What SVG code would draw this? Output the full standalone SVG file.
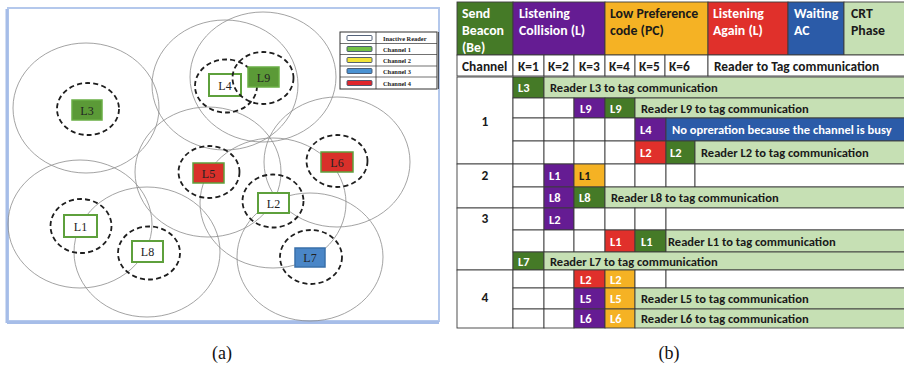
<svg xmlns="http://www.w3.org/2000/svg" width="904" height="366" viewBox="0 0 904 366">
  <style>
    .range { fill: none; stroke: #8c8c8c; stroke-width: 0.8; }
    .zone { fill: none; stroke: #1e1e1e; stroke-width: 1.8; stroke-dasharray: 5 3.2; }
    .rd-off { fill: #ffffff; stroke: #5ea03c; stroke-width: 2; }
    .rd-g { fill: #5b9a37; stroke: #6aae45; stroke-width: 1.5; }
    .rd-r { fill: #d9302a; stroke: #5ea03c; stroke-width: 1.5; }
    .rd-b { fill: #4a86c7; stroke: #3a70aa; stroke-width: 1.5; }
    .rl { font-family: "Liberation Serif", "Times New Roman", serif; font-size: 12px; fill: #222; text-anchor: middle; }
    .lg-t { font-family: "Liberation Serif", "Times New Roman", serif; font-size: 6.4px; font-weight: bold; fill: #222; }
    .cap { font-family: "Liberation Serif", "Times New Roman", serif; font-size: 18px; fill: #111; text-anchor: middle; }
    .c { stroke: #3c3c3c; stroke-width: 0.9; }
    .dg { fill: #457a27; }
    .pu { fill: #651c93; }
    .or { fill: #f5b224; }
    .rd { fill: #e0302b; }
    .bl { fill: #2b5ba8; }
    .lgr { fill: #c6e0b4; }
    .wh { fill: #ffffff; }
    .t { font-family: Carlito, Lato, "Liberation Sans", sans-serif; font-size: 12.5px; font-weight: bold; }
    .th { font-size: 13.8px; }
    .tc { font-size: 13.4px; }
    .tw { fill: #ffffff; }
    .tk { fill: #1a1a1a; }
  </style>

  <rect x="0" y="0" width="904" height="366" fill="#ffffff"/>

  <!-- (a) reader layout -->
  <g id="frame-a">
    <rect x="8" y="8" width="431" height="313" fill="#ffffff" stroke="#b4c8ec" stroke-width="2"/>
    <line x1="7" y1="9" x2="7" y2="323" stroke="#a6bde8" stroke-width="3"/>
    <line x1="7" y1="322.5" x2="439" y2="322.5" stroke="#a6bde8" stroke-width="3"/>
  </g>

  <!-- interrogation ranges -->
  <g id="ranges">
    <ellipse class="range" cx="86" cy="108" rx="73" ry="65"/>
    <ellipse class="range" cx="225" cy="85" rx="73" ry="65"/>
    <ellipse class="range" cx="263" cy="77" rx="73" ry="65"/>
    <ellipse class="range" cx="208" cy="172" rx="73" ry="65"/>
    <ellipse class="range" cx="337" cy="162" rx="73" ry="65"/>
    <ellipse class="range" cx="80" cy="224" rx="72" ry="64"/>
    <ellipse class="range" cx="147" cy="252" rx="73" ry="65"/>
    <ellipse class="range" cx="273" cy="203" rx="73" ry="65"/>
    <ellipse class="range" cx="310" cy="257" rx="73" ry="64"/>
  </g>

  <g id="reader-L3">
    <ellipse class="zone" cx="88" cy="109" rx="31" ry="26"/>
    <rect class="rd-g" x="72" y="100" width="30" height="20"/>
    <text class="rl" x="87" y="114.5">L3</text>
  </g>
  <g id="reader-L4">
    <ellipse class="zone" cx="226" cy="86" rx="31" ry="26.5"/>
    <rect class="rd-off" x="209" y="74" width="32" height="22"/>
    <text class="rl" x="225" y="89.5">L4</text>
  </g>
  <g id="reader-L9">
    <ellipse class="zone" cx="263" cy="78" rx="30.5" ry="26"/>
    <rect class="rd-g" x="248" y="67" width="31" height="20"/>
    <text class="rl" x="263.5" y="81.5">L9</text>
  </g>
  <g id="reader-L5">
    <ellipse class="zone" cx="209" cy="172" rx="30.5" ry="26"/>
    <rect class="rd-r" x="193" y="163" width="31" height="20"/>
    <text class="rl" x="208.5" y="177.5">L5</text>
  </g>
  <g id="reader-L6">
    <ellipse class="zone" cx="337" cy="161" rx="30.5" ry="26"/>
    <rect class="rd-r" x="321" y="152" width="32" height="20"/>
    <text class="rl" x="337" y="166.5">L6</text>
  </g>
  <g id="reader-L1">
    <ellipse class="zone" cx="81" cy="226" rx="30.5" ry="27"/>
    <rect class="rd-off" x="64" y="215" width="33" height="22"/>
    <text class="rl" x="80.5" y="230.5">L1</text>
  </g>
  <g id="reader-L8">
    <ellipse class="zone" cx="149" cy="253" rx="31" ry="26.5"/>
    <rect class="rd-off" x="132" y="241" width="31" height="21"/>
    <text class="rl" x="147.5" y="256">L8</text>
  </g>
  <g id="reader-L2">
    <ellipse class="zone" cx="273" cy="201" rx="30.5" ry="26.5"/>
    <rect class="rd-off" x="258" y="193" width="31" height="20"/>
    <text class="rl" x="273.5" y="207.5">L2</text>
  </g>
  <g id="reader-L7">
    <ellipse class="zone" cx="311" cy="257" rx="31" ry="27"/>
    <rect class="rd-b" x="295" y="248" width="30" height="19"/>
    <text class="rl" x="310" y="262">L7</text>
  </g>

  <!-- legend -->
  <g id="legend">
    <rect x="340" y="32" width="97" height="57" fill="#ffffff" stroke="#333" stroke-width="1"/>
    <line x1="438.5" y1="32" x2="438.5" y2="89" stroke="#333" stroke-width="0.8"/>
    <line x1="376" y1="32" x2="376" y2="89" stroke="#333" stroke-width="0.8"/>
    <line x1="340" y1="43.5" x2="437" y2="43.5" stroke="#333" stroke-width="0.7"/>
    <line x1="340" y1="54.5" x2="437" y2="54.5" stroke="#333" stroke-width="0.7"/>
    <line x1="340" y1="66" x2="437" y2="66" stroke="#333" stroke-width="0.7"/>
    <line x1="340" y1="77" x2="437" y2="77" stroke="#333" stroke-width="0.7"/>
    <rect x="347" y="35.5" width="25" height="5" rx="1" fill="#ffffff" stroke="#41506a" stroke-width="0.9"/>
    <rect x="347" y="46.5" width="25" height="5" rx="1" fill="#72c046" stroke="#41506a" stroke-width="0.9"/>
    <rect x="347" y="57.5" width="25" height="5" rx="1" fill="#f2e438" stroke="#41506a" stroke-width="0.9"/>
    <rect x="347" y="68.5" width="25" height="5" rx="1" fill="#4a92d2" stroke="#41506a" stroke-width="0.9"/>
    <rect x="347" y="80.5" width="25" height="5" rx="1" fill="#e0262c" stroke="#41506a" stroke-width="0.9"/>
    <text class="lg-t" x="383" y="40.5">Inactive Reader</text>
    <text class="lg-t" x="383" y="51.5">Channel 1</text>
    <text class="lg-t" x="383" y="62.5">Channel 2</text>
    <text class="lg-t" x="383" y="73.5">Channel 3</text>
    <text class="lg-t" x="383" y="85.5">Channel 4</text>
  </g>

  <!-- (b) channel/phase table -->
  <g id="table-header">
    <rect class="c dg" x="457" y="2" width="56" height="53"/>
    <rect class="c pu" x="513" y="2" width="92" height="53"/>
    <rect class="c or" x="605" y="2" width="103" height="53"/>
    <rect class="c rd" x="708" y="2" width="80" height="53"/>
    <rect class="c bl" x="788" y="2" width="56" height="53"/>
    <rect class="c lgr" x="844" y="2" width="62" height="53"/>
    <text class="t th tw" x="462" y="18">Send</text>
    <text class="t th tw" x="462" y="35">Beacon</text>
    <text class="t th tw" x="462" y="52">(Be)</text>
    <text class="t th tw" x="519" y="18">Listening</text>
    <text class="t th tw" x="519" y="35">Collision (L)</text>
    <text class="t th tk" x="610" y="18">Low Preference</text>
    <text class="t th tk" x="610" y="35">code (PC)</text>
    <text class="t th tw" x="713" y="18">Listening</text>
    <text class="t th tw" x="713" y="35">Again (L)</text>
    <text class="t th tw" x="794" y="18">Waiting</text>
    <text class="t th tw" x="794" y="35">AC</text>
    <text class="t th tk" x="851" y="18">CRT</text>
    <text class="t th tk" x="851" y="35">Phase</text>
  </g>

  <g id="table-channel-row">
    <rect class="c wh" x="457" y="55" width="56" height="21"/>
    <rect class="c wh" x="513" y="55" width="31" height="21"/>
    <rect class="c wh" x="544" y="55" width="30" height="21"/>
    <rect class="c wh" x="574" y="55" width="31" height="21"/>
    <rect class="c wh" x="605" y="55" width="30" height="21"/>
    <rect class="c wh" x="635" y="55" width="30" height="21"/>
    <rect class="c wh" x="665" y="55" width="43" height="21"/>
    <rect class="c wh" x="708" y="55" width="198" height="21"/>
    <text class="t tc tk" x="462" y="71">Channel</text>
    <text class="t tc tk" x="518" y="71">K=1</text>
    <text class="t tc tk" x="548" y="71">K=2</text>
    <text class="t tc tk" x="579" y="71">K=3</text>
    <text class="t tc tk" x="609" y="71">K=4</text>
    <text class="t tc tk" x="639" y="71">K=5</text>
    <text class="t tc tk" x="669" y="71">K=6</text>
    <text class="t tc tk" x="714" y="71">Reader to Tag communication</text>
  </g>

  <!-- channel 1 -->
  <g id="table-ch1">
    <rect class="c wh" x="457" y="77" width="56" height="87"/>
    <text class="t tc tk" x="485" y="126" text-anchor="middle">1</text>
    <rect class="c dg" x="513" y="77" width="31" height="21"/>
    <rect class="c lgr" x="544" y="77" width="362" height="21"/>
    <text class="t tw" x="518" y="92">L3</text>
    <text class="t tk" x="550" y="92">Reader L3 to tag communication</text>

    <rect class="c wh" x="513" y="98" width="31" height="20"/>
    <rect class="c wh" x="544" y="98" width="30" height="20"/>
    <rect class="c pu" x="574" y="98" width="31" height="20"/>
    <rect class="c dg" x="605" y="98" width="30" height="20"/>
    <rect class="c lgr" x="635" y="98" width="271" height="20"/>
    <text class="t tw" x="580" y="112.5">L9</text>
    <text class="t tw" x="610" y="112.5">L9</text>
    <text class="t tk" x="641" y="112.5">Reader L9 to tag communication</text>

    <rect class="c wh" x="513" y="118" width="31" height="23"/>
    <rect class="c wh" x="544" y="118" width="30" height="23"/>
    <rect class="c wh" x="574" y="118" width="31" height="23"/>
    <rect class="c wh" x="605" y="118" width="30" height="23"/>
    <rect class="c pu" x="635" y="118" width="31" height="23"/>
    <rect class="c bl" x="666" y="118" width="240" height="23"/>
    <text class="t tw" x="640" y="134">L4</text>
    <text class="t tw" x="672" y="134">No opreration because the channel is busy</text>

    <rect class="c wh" x="513" y="141" width="31" height="23"/>
    <rect class="c wh" x="544" y="141" width="30" height="23"/>
    <rect class="c wh" x="574" y="141" width="31" height="23"/>
    <rect class="c wh" x="605" y="141" width="30" height="23"/>
    <rect class="c rd" x="635" y="141" width="31" height="23"/>
    <rect class="c dg" x="666" y="141" width="29" height="23"/>
    <rect class="c lgr" x="695" y="141" width="211" height="23"/>
    <text class="t tw" x="640" y="157">L2</text>
    <text class="t tw" x="670" y="157">L2</text>
    <text class="t tk" x="701" y="157">Reader L2 to tag communication</text>
  </g>

  <!-- channel 2 -->
  <g id="table-ch2">
    <rect class="c wh" x="457" y="164" width="56" height="44"/>
    <text class="t tc tk" x="485" y="180" text-anchor="middle">2</text>
    <rect class="c wh" x="513" y="164" width="31" height="23"/>
    <rect class="c pu" x="544" y="164" width="30" height="23"/>
    <rect class="c or" x="574" y="164" width="31" height="23"/>
    <rect class="c wh" x="605" y="164" width="30" height="23"/>
    <rect class="c wh" x="635" y="164" width="31" height="23"/>
    <rect class="c wh" x="666" y="164" width="29" height="23"/>
    <rect class="c wh" x="695" y="164" width="211" height="23"/>
    <text class="t tw" x="549" y="180">L1</text>
    <text class="t tk" x="579" y="180">L1</text>

    <rect class="c wh" x="513" y="187" width="31" height="21"/>
    <rect class="c pu" x="544" y="187" width="30" height="21"/>
    <rect class="c dg" x="574" y="187" width="31" height="21"/>
    <rect class="c lgr" x="605" y="187" width="301" height="21"/>
    <text class="t tw" x="549" y="202">L8</text>
    <text class="t tw" x="579" y="202">L8</text>
    <text class="t tk" x="611" y="202">Reader L8 to tag communication</text>
  </g>

  <!-- channel 3 -->
  <g id="table-ch3">
    <rect class="c wh" x="457" y="208" width="56" height="62"/>
    <text class="t tc tk" x="485" y="223" text-anchor="middle">3</text>
    <rect class="c wh" x="513" y="208" width="31" height="22"/>
    <rect class="c pu" x="544" y="208" width="30" height="22"/>
    <rect class="c wh" x="574" y="208" width="31" height="22"/>
    <rect class="c wh" x="605" y="208" width="30" height="22"/>
    <rect class="c wh" x="635" y="208" width="31" height="22"/>
    <rect class="c wh" x="666" y="208" width="240" height="22"/>
    <text class="t tw" x="549" y="223.5">L2</text>

    <rect class="c wh" x="513" y="230" width="31" height="22"/>
    <rect class="c wh" x="544" y="230" width="30" height="22"/>
    <rect class="c wh" x="574" y="230" width="31" height="22"/>
    <rect class="c rd" x="605" y="230" width="30" height="22"/>
    <rect class="c dg" x="635" y="230" width="31" height="22"/>
    <rect class="c lgr" x="666" y="230" width="240" height="22"/>
    <text class="t tw" x="610" y="245.5">L1</text>
    <text class="t tw" x="641" y="245.5">L1</text>
    <text class="t tk" x="668" y="245.5">Reader L1 to tag communication</text>

    <rect class="c dg" x="513" y="252" width="31" height="18"/>
    <rect class="c lgr" x="544" y="252" width="362" height="18"/>
    <text class="t tw" x="518" y="265.5">L7</text>
    <text class="t tk" x="550" y="265.5">Reader L7 to tag communication</text>
  </g>

  <!-- channel 4 -->
  <g id="table-ch4">
    <rect class="c wh" x="457" y="270" width="56" height="58"/>
    <text class="t tc tk" x="485" y="302" text-anchor="middle">4</text>
    <rect class="c wh" x="513" y="270" width="31" height="18"/>
    <rect class="c wh" x="544" y="270" width="30" height="18"/>
    <rect class="c rd" x="574" y="270" width="31" height="18"/>
    <rect class="c or" x="605" y="270" width="30" height="18"/>
    <rect class="c wh" x="635" y="270" width="31" height="18"/>
    <rect class="c wh" x="666" y="270" width="240" height="18"/>
    <text class="t tw" x="580" y="283.5">L2</text>
    <text class="t tw" x="610" y="283.5">L2</text>

    <rect class="c wh" x="513" y="288" width="31" height="21"/>
    <rect class="c wh" x="544" y="288" width="30" height="21"/>
    <rect class="c pu" x="574" y="288" width="31" height="21"/>
    <rect class="c or" x="605" y="288" width="30" height="21"/>
    <rect class="c lgr" x="635" y="288" width="271" height="21"/>
    <text class="t tw" x="580" y="303">L5</text>
    <text class="t tw" x="610" y="303">L5</text>
    <text class="t tk" x="641" y="303">Reader L5 to tag communication</text>

    <rect class="c wh" x="513" y="309" width="31" height="19"/>
    <rect class="c wh" x="544" y="309" width="30" height="19"/>
    <rect class="c pu" x="574" y="309" width="31" height="19"/>
    <rect class="c or" x="605" y="309" width="30" height="19"/>
    <rect class="c lgr" x="635" y="309" width="271" height="19"/>
    <text class="t tw" x="580" y="323">L6</text>
    <text class="t tw" x="610" y="323">L6</text>
    <text class="t tk" x="641" y="323">Reader L6 to tag communication</text>
  </g>

  <g id="captions">
    <text class="cap" x="222" y="359">(a)</text>
    <text class="cap" x="669" y="359">(b)</text>
  </g>
</svg>
